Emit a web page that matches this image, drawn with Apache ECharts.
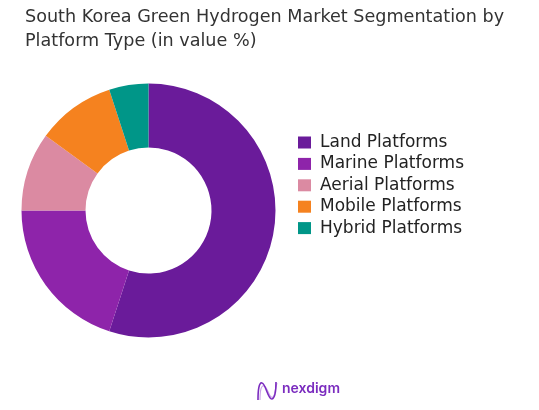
<!DOCTYPE html>
<html><head><meta charset="utf-8">
<script src="https://cdn.jsdelivr.net/npm/echarts@6/dist/echarts.min.js"></script>
<style>html,body{margin:0;padding:0;background:#fff}#c{width:539px;height:410px}</style>
</head><body><div id="c"></div>
<script>
const categories = ['Land Platforms','Marine Platforms','Aerial Platforms','Mobile Platforms','Hybrid Platforms'];
const values = [55, 20, 10, 10, 5];
const colors = ['#6A1B9A','#8E24AA','#DB8AA2','#F5821F','#009688'];
const titleText = 'South Korea Green Hydrogen Market Segmentation by\nPlatform Type (in value %)';

function curve(p, stroke, w) {
  return {type: 'bezierCurve', shape: {x1: p[0], y1: p[1], cpx1: p[2], cpy1: p[3], cpx2: p[4], cpy2: p[5], x2: p[6], y2: p[7]},
    style: {stroke: stroke, lineWidth: w, fill: null}};
}
const logoDark = [[258,400,258,390,259,382,262,383],[262,383,266,384,268,400,272,399],[272,399,275,398,276,390,276,382]];
const logoLight = [[260,400,260,391,261,385,264,386],[264,386,268,387,269,399,273,397],[273,397,275,396,275,389,277,383]];

const chart = echarts.init(document.getElementById('c'));
chart.setOption({
  animation: false,
  title: {
    text: titleText, left: 25, top: 5, padding: 0,
    textStyle: {fontFamily: 'DejaVu Sans', fontWeight: 'normal', fontSize: 17.6, color: '#333', lineHeight: 24}
  },
  legend: {
    orient: 'vertical', left: 298, top: 134, padding: 0,
    icon: 'rect', itemWidth: 13, itemHeight: 12, itemGap: 4.4,
    data: categories,
    textStyle: {fontFamily: 'DejaVu Sans', fontSize: 17, color: '#222', padding: [0,0,0,4]}
  },
  series: [{
    type: 'pie', center: [148.5, 210.5], radius: [63, 127],
    startAngle: 90, clockwise: true,
    label: {show: false}, labelLine: {show: false},
    itemStyle: {borderWidth: 0},
    data: categories.map((n,i) => ({name: n, value: values[i], itemStyle: {color: colors[i]}}))
  }],
  graphic: [
    {type: 'text', left: 282, top: 382, style: {text: 'nexdigm', fontFamily: 'Inter', fontSize: 14, fontWeight: 600, fill: '#7B2CBF'}}
  ].concat(logoLight.map(p => curve(p, '#C9A0E8', 1.1)), logoDark.map(p => curve(p, '#7B2CBF', 1.6)))
});
</script></body></html>
